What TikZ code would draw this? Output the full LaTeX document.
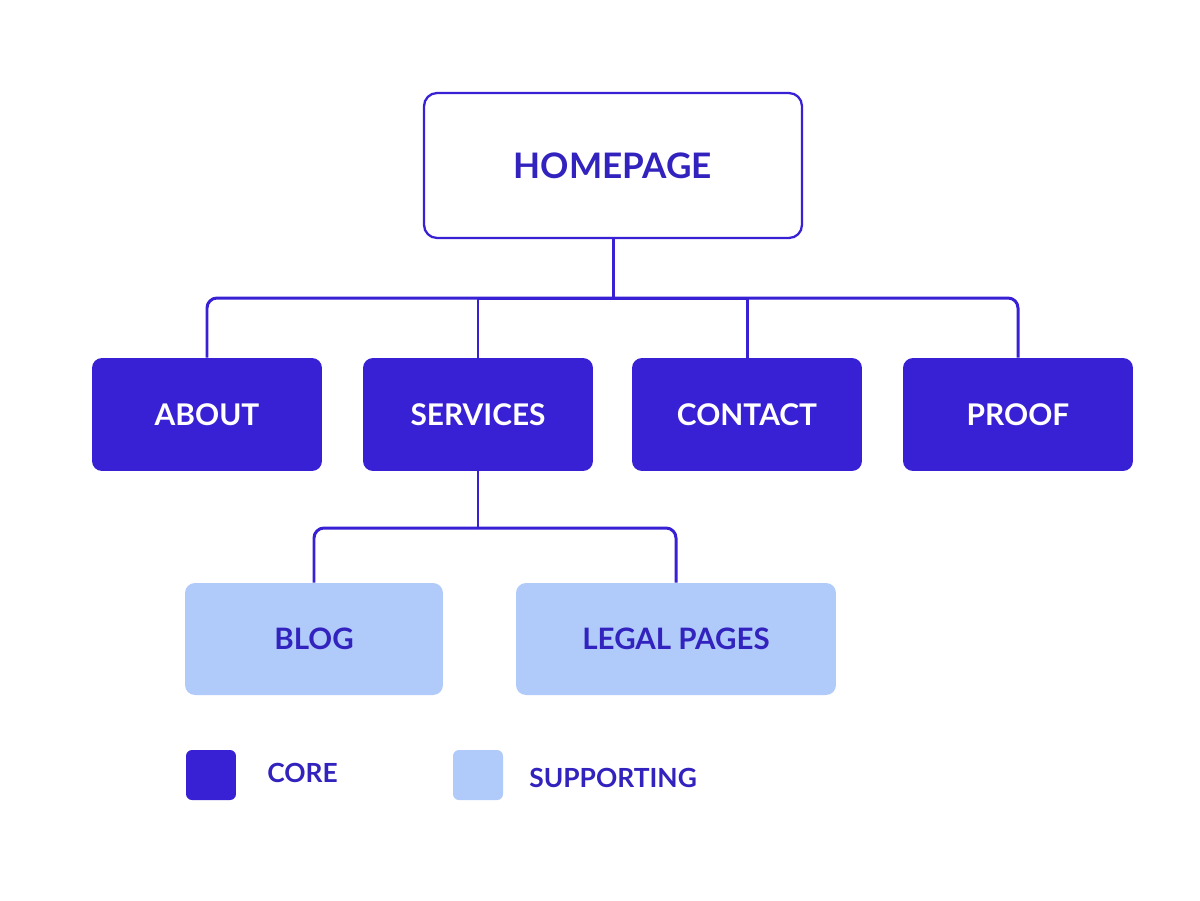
\documentclass[tikz,border=0pt]{standalone}
\usepackage{fontspec}
\setmainfont{Lato}
\usetikzlibrary{positioning,calc}
\definecolor{CoreBlue}{RGB}{56,33,212}
\definecolor{SoftBlue}{RGB}{176,202,250}
\definecolor{InkBlue}{RGB}{50,34,190}
\tikzset{
  home/.style={draw=CoreBlue,line width=1.3pt,fill=white,rounded corners=0.26cm,
    minimum width=7.56cm,minimum height=2.9cm,text=InkBlue,
    font=\fontsize{20}{24}\selectfont\bfseries},
  core/.style={fill=CoreBlue,rounded corners=0.2cm,minimum width=4.6cm,
    minimum height=2.26cm,text=white,font=\fontsize{17}{20}\selectfont\bfseries},
  support/.style={fill=SoftBlue,rounded corners=0.2cm,minimum height=2.24cm,
    text=InkBlue,font=\fontsize{16.8}{20}\selectfont\bfseries},
  key/.style={rounded corners=0.12cm,minimum size=1cm,inner sep=0pt},
  keytext/.style={text=InkBlue,anchor=west,inner sep=0pt,
    font=\fontsize{15}{18}\selectfont\bfseries},
  link/.style={draw=CoreBlue,line width=1.7pt},
}
\begin{document}
\begin{tikzpicture}[x=0.02cm,y=-0.02cm]
\fill[white] (0,0) rectangle (1200,900);
% tree
\node[home] (homepage) at (613,165.5) {HOMEPAGE};
\node[core] (about) at (207,414.5) {ABOUT};
\node[core] (services) at (478,414.5) {SERVICES};
\node[core] (contact) at (747,414.5) {CONTACT};
\node[core] (proof) at (1018,414.5) {PROOF};
\node[support,minimum width=5.16cm] (blog) at (314,639) {BLOG};
\node[support,minimum width=6.4cm] (legal) at (676,639) {LEGAL PAGES};
\coordinate (hub) at (613,298);
\coordinate (subhub) at (478,528);
\draw[link] (homepage.south) -- (hub);
\draw[link,rounded corners=0.2cm] (hub) -| (about.north);
\draw[link,rounded corners=0.2cm] (hub) -| (proof.north);
\draw[link] (hub) -| (services.north);
\draw[link] (hub) -| (contact.north);
\draw[link] (services.south) -- (subhub);
\draw[link,rounded corners=0.2cm] (subhub) -| (blog.north);
\draw[link,rounded corners=0.2cm] (subhub) -| (legal.north);
% legend
\node[key,fill=CoreBlue] (corekey) at (211,775) {};
\node[keytext] (corelabel) at (267,773) {CORE};
\node[key,fill=SoftBlue] (supkey) at (478,775) {};
\node[keytext] (suplabel) at (529,778) {SUPPORTING};
\end{tikzpicture}
\end{document}
